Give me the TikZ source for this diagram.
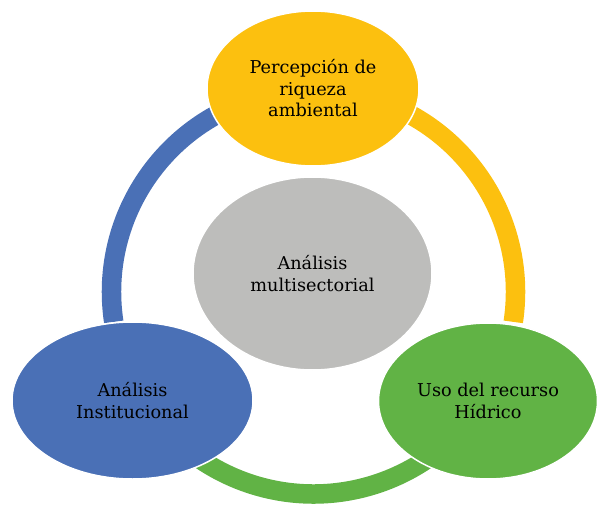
\documentclass[tikz,border=0pt]{standalone}
\usepackage{fontspec}
\setmainfont{DejaVu Serif}
\usetikzlibrary{shapes.geometric}
\definecolor{amarillo}{HTML}{FCC00F}
\definecolor{azul}{HTML}{4A70B6}
\definecolor{verde}{HTML}{61B345}
\definecolor{gris}{HTML}{BDBDBB}
\begin{document}
\begin{tikzpicture}[x=1pt,y=1pt]

        \useasboundingbox (0,0) rectangle (597,507);
        \coordinate (c) at (313.5,215);

        \begin{scope}[line width=19.5pt]
          \draw[azul]     (c) ++(188.5:202) arc (188.5:100:202);
          \draw[amarillo] (c) ++(80:202)    arc (80:-8.5:202);
          \draw[verde]    (c) ++(-40:202)   arc (-40:-140:202);
        \end{scope}

        \begin{scope}[every node/.style={ellipse,draw=white,line width=1.5pt,inner sep=0pt,align=center,font=\fontsize{17.7}{21.5}\selectfont}]
          \node[fill=gris,minimum width=239pt,minimum height=193pt]     (0) at (312.5,233.5) {Análisis\\multisectorial};
          \node[fill=amarillo,minimum width=212pt,minimum height=155pt] (1) at (313,418.5)   {Percepción de\\riqueza\\ambiental};
          \node[fill=verde,minimum width=219pt,minimum height=156pt]    (2) at (488,106)     {Uso del recurso\\Hídrico};
          \node[fill=azul,minimum width=241pt,minimum height=157pt]     (3) at (132.5,106.5) {Análisis\\Institucional};
        \end{scope}

      \end{tikzpicture}
\end{document}
